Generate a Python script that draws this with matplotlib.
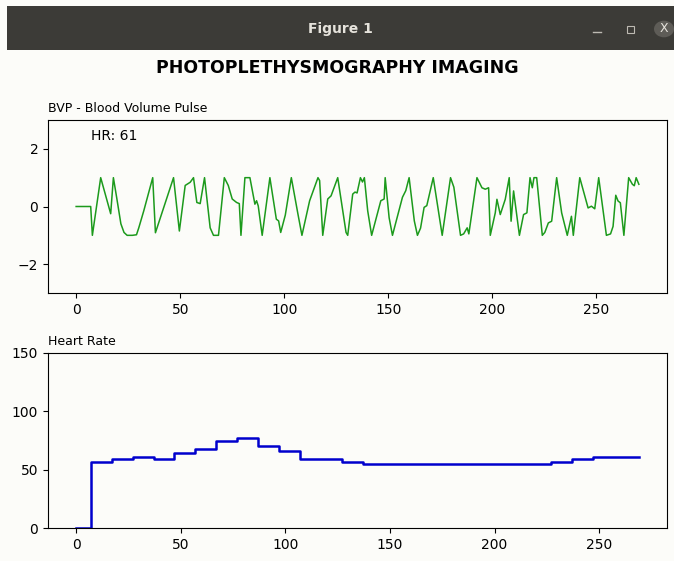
import matplotlib
matplotlib.use("Agg")
import matplotlib.pyplot as plt
from matplotlib.patches import Rectangle, Circle

# BVP waveform, sampled at its turning points (sample index, normalised value)
bvp_t = [0, 7, 7.8, 11.8, 16.6, 17.9, 19.5, 21.5, 23, 24.5, 27, 29, 30.1, 32.5,
         36.8, 38.1, 46.8, 49.6, 52.4, 54.8, 56.4, 58, 59.6, 61.7, 64.4, 66,
         68.4, 71.2, 73.1, 75, 77.1, 78.4, 79.2, 81.1, 83.5, 85.9, 86.7, 87.5,
         89.4, 93.1, 96.2, 97.3, 98.3, 100.5, 103.4, 106.6, 108.5, 112.2, 116.2,
         117, 118.5, 120.9, 122.5, 125.7, 129.7, 130.5, 132.9, 134, 135, 136.6,
         137.6, 138.5, 140.1, 142, 146.4, 148, 148.5, 150.4, 152, 156.8, 158.4,
         160, 162.5, 164, 165.5, 167.2, 168.5, 171.6, 175.9, 179.9, 181.5,
         184.7, 186.2, 187.9, 188.7, 192.6, 195, 196.6, 198.2, 199, 201.4,
         202.2, 203.8, 206.2, 208.1, 209, 210.2, 213, 215, 216.6, 218.1, 219.2,
         220, 221.3, 224, 225.2, 226.9, 228.5, 230.9, 233.3, 236, 238, 238.9,
         242, 246, 247.6, 249.2, 251.1, 254.8, 256.8, 258, 259.3, 260.4, 261.5,
         263.2, 265.5, 267.3, 268.2, 269.1, 270.4]
bvp_v = [0, 0, -1, 1, -0.25, 1, 0.3, -0.6, -0.9, -1, -1, -0.98, -0.74, -0.15,
         1, -0.91, 1, -0.85, 0.73, 0.84, 1, 0.14, 0.1, 1, -0.74, -1,
         -1, 1, 0.73, 0.26, 0.14, 0.1, -1, 1, 1, 0.08, 0.2, 0.02,
         -1, 1, -0.44, -0.5, -0.9, -0.3, 1, -0.27, -1, 0.2, 1,
         0.9, -1, 0.26, 0.37, 1, -0.9, -1, 0.43, 0.5, 0.47, 1,
         0.85, 1, -0.15, -1, 0.2, 0.26, 1, -0.39, -1, 0.32, 0.55,
         1, -0.5, -1, -0.75, -0.03, 0.03, 1, -1, 1, 0.67,
         -1, -0.95, -0.74, -0.95, 1, 0.65, 0.6, 0.65, -1, -0.22,
         0.25, -0.28, 0.25, 1, -0.51, 0.54, -1, -0.28, -0.22, 1, 0.65,
         1, 1, -1, -0.9, -0.57, -0.51, 1, -0.22, -1, -0.34, -1,
         1, -0.05, 0.01, -0.08, 1, -1, -0.95, -0.69, 0.39, 0.19, 0.13,
         -1, 1, 0.77, 0.72, 1, 0.77]

# heart rate estimate, updated every ~10 samples (start index, bpm)
hr_start = [0, 7, 17, 27, 37, 47, 57, 67, 77, 87, 97, 107, 127, 137, 227, 237, 247, 269]
hr_value = [0, 57, 59, 61, 59, 64, 68, 75, 77, 70, 66, 59, 57, 55, 57, 59, 61, 61]
hr_now = hr_value[-1]

bvp_ticks = [-2, 0, 2]
hr_ticks = [0, 50, 100, 150]

bg = "#fcfcf9"
W, H = 674, 561

fig = plt.figure(figsize=(W / 100, H / 100), dpi=100, facecolor=bg)

# window title bar
fig.patches.append(Rectangle((7 / W, 1 - 50 / H), 1, 44 / H, transform=fig.transFigure,
                             facecolor="#3c3b37", edgecolor="none", zorder=0))
fig.text(340 / W, 1 - 29 / H, "Figure 1", ha="center", va="center",
         color="#e6e3dc", fontsize=10, fontweight="bold")
fig.lines.append(plt.Line2D([593 / W, 601 / W], [1 - 32 / H, 1 - 32 / H],
                            transform=fig.transFigure, color="#bdbab2", lw=1))
fig.patches.append(Rectangle((627 / W, 1 - 33 / H), 7 / W, 7 / H, transform=fig.transFigure,
                             facecolor="none", edgecolor="#bdbab2", lw=0.8))
fig.patches.append(Circle((664 / W, 1 - 29 / H), 10 / W, transform=fig.transFigure,
                          facecolor="#5e5c57", edgecolor="none"))
fig.text(664 / W, 1 - 29 / H, "X", ha="center", va="center", color="#e6e3dc", fontsize=9)

fig.suptitle("PHOTOPLETHYSMOGRAPHY IMAGING", y=1 - 68 / H, va="center",
             fontsize=12.5, fontweight="bold")

ax1 = fig.add_axes([48 / W, 1 - 293 / H, 619 / W, 173 / H], facecolor=bg)
ax2 = fig.add_axes([48 / W, 1 - 528 / H, 619 / W, 175 / H], facecolor=bg)

ax1.plot(bvp_t, bvp_v, color="#1c9a1c", lw=1.1)
ax1.set_ylim(-3, 3)
ax1.set_yticks(bvp_ticks)
ax1.set_title("BVP - Blood Volume Pulse", loc="left", fontsize=9)
ax1.text(7, 2.45, f"HR: {hr_now}", fontsize=10, va="center")

ax2.plot(hr_start, hr_value, color="mediumblue", lw=1.8, drawstyle="steps-post")
ax2.set_ylim(0, 150)
ax2.set_yticks(hr_ticks)
ax2.set_title("Heart Rate", loc="left", fontsize=9)

for ax in (ax1, ax2):
    ax.tick_params(labelsize=10)

fig.savefig("out.png", dpi=100, facecolor=bg)
